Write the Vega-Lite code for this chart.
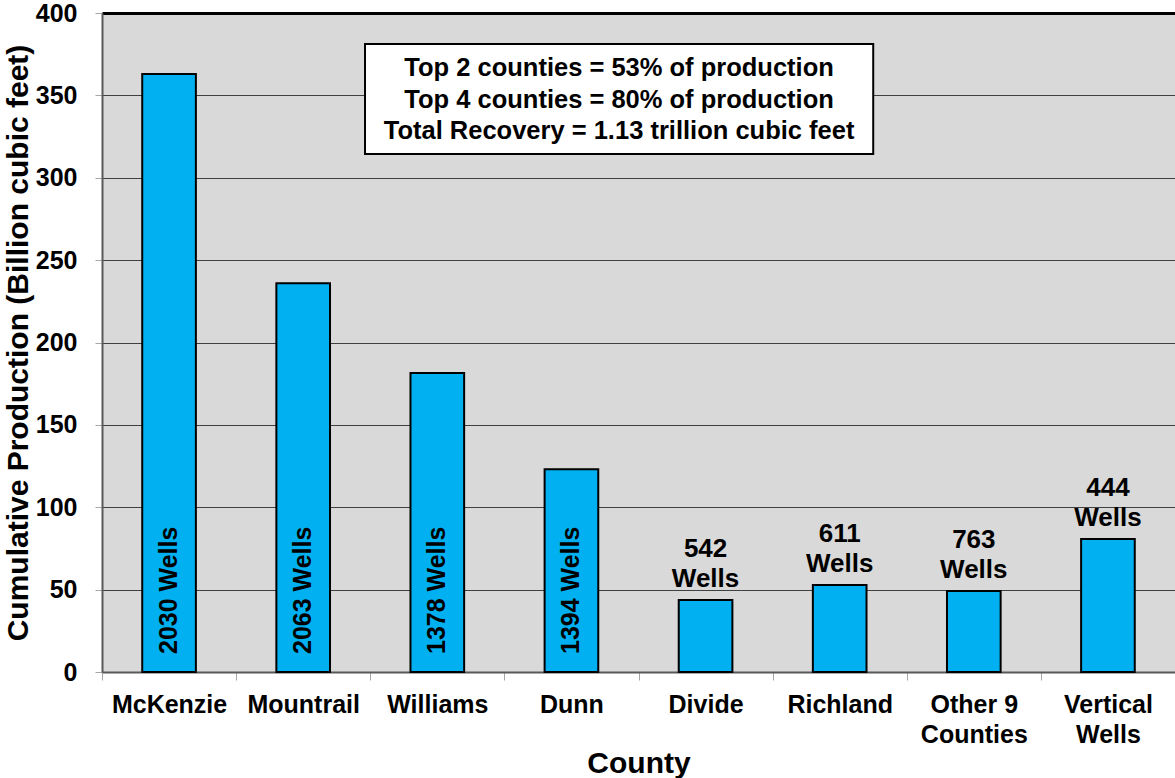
{
  "$schema": "https://vega.github.io/schema/vega-lite/v6.json",
  "width": 1073,
  "height": 659,
  "autosize": "none",
  "padding": {"left": 102, "top": 13, "right": 0, "bottom": 106},
  "background": "white",
  "config": {"view": {"fill": "#D9D9D9", "stroke": null}, "font": "Liberation Sans"},
  "layer": [
    {
      "data": {"values": [
        {"county": "McKenzie", "production": 363, "wells": 2030},
        {"county": "Mountrail", "production": 236, "wells": 2063},
        {"county": "Williams", "production": 181.5, "wells": 1378},
        {"county": "Dunn", "production": 123, "wells": 1394},
        {"county": "Divide", "production": 43.7, "wells": 542},
        {"county": "Richland", "production": 52.8, "wells": 611},
        {"county": "Other 9|Counties", "production": 49.2, "wells": 763},
        {"county": "Vertical|Wells", "production": 80.7, "wells": 444}
      ]},
      "layer": [
        {
          "mark": {"type": "bar", "width": {"band": 0.4}, "fill": "#00B0F0", "stroke": "black", "strokeWidth": 2},
          "encoding": {
            "x": {
              "field": "county", "type": "nominal", "sort": null,
              "scale": {"paddingInner": 0, "paddingOuter": 0},
              "axis": {
                "title": "County", "titleFontSize": 30, "titleFontWeight": "bold", "titleColor": "black", "titlePadding": 1,
                "labelFontSize": 25, "labelFontWeight": "bold", "labelColor": "black", "labelAngle": 0,
                "labelExpr": "split(datum.label, '|')", "labelLineHeight": 30, "labelPadding": 12,
                "tickBand": "extent", "tickColor": "#A6A6A6", "tickSize": 8, "tickWidth": 1,
                "domainColor": "#595959", "domainWidth": 2, "grid": false
              }
            },
            "y": {
              "field": "production", "type": "quantitative",
              "scale": {"domain": [0, 400], "nice": false},
              "axis": {
                "title": "Cumulative Production (Billion cubic feet)", "titleFontSize": 30, "titleFontWeight": "bold", "titleColor": "black", "titlePadding": 2,
                "values": [0, 50, 100, 150, 200, 250, 300, 350, 400],
                "labelFontSize": 25, "labelFontWeight": "bold", "labelColor": "black", "labelPadding": 18,
                "tickColor": "#A6A6A6", "tickSize": 7, "tickWidth": 1,
                "domainColor": "#595959", "domainWidth": 2,
                "grid": true,
                "gridColor": {"condition": {"test": "datum.value === 400", "value": "black"}, "value": "#404040"},
                "gridWidth": {"condition": {"test": "datum.value === 400", "value": 3}, "value": 1},
                "gridOpacity": 1
              }
            }
          }
        },
        {
          "transform": [
            {"filter": "datum.production > 100"},
            {"calculate": "datum.wells + ' Wells'", "as": "label"}
          ],
          "mark": {"type": "text", "angle": 270, "align": "left", "baseline": "middle", "fontSize": 25, "fontWeight": "bold", "color": "black", "dx": 18},
          "encoding": {
            "x": {"field": "county", "type": "nominal", "sort": null},
            "y": {"datum": 0},
            "text": {"field": "label"}
          }
        },
        {
          "transform": [
            {"filter": "datum.production <= 100"},
            {"calculate": "datum.wells + '\\nWells'", "as": "label"}
          ],
          "mark": {"type": "text", "align": "center", "baseline": "bottom", "lineBreak": "\n", "lineHeight": 30, "fontSize": 26, "fontWeight": "bold", "color": "black", "dy": -38},
          "encoding": {
            "x": {"field": "county", "type": "nominal", "sort": null},
            "y": {"field": "production", "type": "quantitative"},
            "text": {"field": "label"}
          }
        }
      ]
    },
    {
      "data": {"values": [
        {"x1": 1.961, "x2": 5.75, "y1": 314.4, "y2": 381.2, "cx": 3.855, "cy": 366.6,
         "note": "Top 2 counties = 53% of production\nTop 4 counties = 80% of production\nTotal Recovery = 1.13 trillion cubic feet"}
      ]},
      "layer": [
        {
          "mark": {"type": "rect", "fill": "white", "stroke": "black", "strokeWidth": 2},
          "encoding": {
            "x": {"field": "x1", "type": "quantitative", "scale": {"domain": [0, 8], "nice": false, "zero": false}, "axis": null},
            "x2": {"field": "x2"},
            "y": {"field": "y1", "type": "quantitative"},
            "y2": {"field": "y2"}
          }
        },
        {
          "mark": {"type": "text", "align": "center", "baseline": "middle", "lineBreak": "\n", "lineHeight": 31.5, "fontSize": 25.5, "fontWeight": "bold", "color": "black"},
          "encoding": {
            "x": {"field": "cx", "type": "quantitative"},
            "y": {"field": "cy", "type": "quantitative"},
            "text": {"field": "note"}
          }
        }
      ]
    }
  ],
  "resolve": {"scale": {"x": "independent"}}
}
